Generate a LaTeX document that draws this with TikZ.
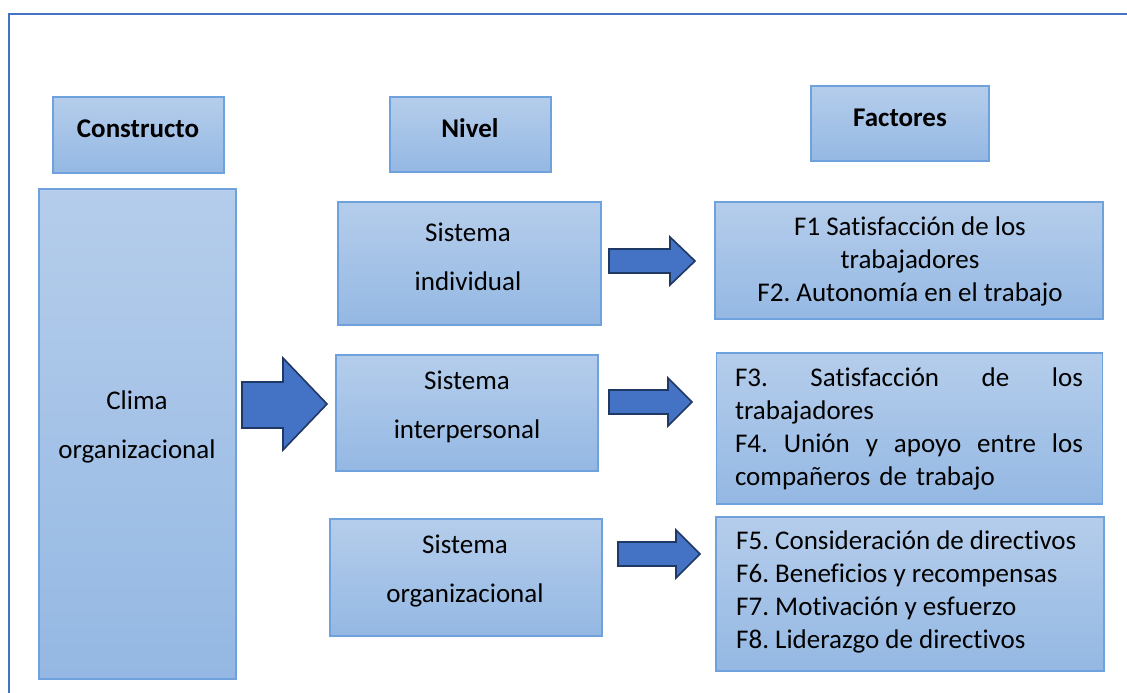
\documentclass[tikz,border=0pt]{standalone}
\usepackage{fontspec}
\setmainfont{Carlito}[Ligatures={NoCommon}]
\definecolor{frame}{HTML}{4472C4}
\definecolor{boxtop}{HTML}{B5CDEB}
\definecolor{boxbot}{HTML}{94B8E3}
\definecolor{boxedge}{HTML}{6FA2DC}
\definecolor{arrfill}{HTML}{4472C4}
\definecolor{arredge}{HTML}{1F3864}
\frenchspacing
\begin{document}
\begin{tikzpicture}[x=1pt,y=-1pt,
  box/.style={draw=boxedge, line width=1.2pt, top color=boxtop, bottom color=boxbot, inner sep=0pt},
  txt/.style={inner sep=0pt, font=\fontsize{27}{33}\selectfont, text=black},
  twoline/.style={txt, align=center, font=\fontsize{27}{49}\selectfont},
  head/.style={txt, font=\fontsize{27}{33}\selectfont\bfseries},
  blockarrow/.style={fill=arrfill, draw=arredge, line width=1.6pt, line join=miter}]
\useasboundingbox (0,0) rectangle (1127,693);
\fill[white] (0,0) rectangle (1127,693);
% outer frame
\draw[frame, line width=2.8pt] (9,800) -- (9,14) -- (1200,14);
% header boxes
\node[box, minimum width=171pt, minimum height=76pt] (bconst) at (138.5,135) {};
\node[head] (tconst) at (138,128.5) {Constructo};
\node[box, minimum width=161pt, minimum height=75pt] (bnivel) at (470.5,134.5) {};
\node[head] (tnivel) at (470,128.5) {Nivel};
\node[box, minimum width=178pt, minimum height=75pt] (bfact) at (900,123.5) {};
\node[head] (tfact) at (900,117.5) {Factores};
% clima
\node[box, minimum width=197pt, minimum height=490pt] (bclima) at (137.5,434) {};
\node[twoline] (tclima) at (137,427) {Clima\\organizacional};
% sistemas
\node[box, minimum width=263pt, minimum height=123pt] (bind) at (469.5,263.5) {};
\node[twoline] (tind) at (468,256.5) {Sistema\\individual};
\node[box, minimum width=262pt, minimum height=116pt] (binter) at (467,413) {};
\node[twoline] (tinter) at (467,407) {Sistema\\interpersonal};
\node[box, minimum width=272pt, minimum height=117pt] (borg) at (466,577.5) {};
\node[twoline] (torg) at (465,571.5) {Sistema\\organizacional};
% factor boxes
\node[box, minimum width=388pt, minimum height=117pt] (bf1) at (909,260.5) {};
\node[txt, align=center] (tf1) at (910,261) {F1 Satisfacción de los\\trabajadores\\F2. Autonomía en el trabajo};
\node[box, minimum width=386pt, minimum height=151pt] (bf3) at (909.5,428.5) {};
\node[txt, align=left, text width=348pt] (tf3) at (909,429) {\makebox[348pt][s]{F3.\hfill Satisfacción\hfill de\hfill los}\\trabajadores\\\makebox[348pt][s]{F4.\hfill Unión\hfill y\hfill apoyo\hfill entre\hfill los}\\compañeros de trabajo};
\node[box, minimum width=388pt, minimum height=154pt] (bf5) at (910,594) {};
\node[txt, align=left, anchor=west] (tf5) at (736,592) {F5. Consideración de directivos\\F6. Beneficios y recompensas\\F7. Motivación y esfuerzo\\F8. Liderazgo de directivos};
% block arrows
\draw[blockarrow] (242,382) -- (283,382) -- (283,358) -- (327,404) -- (283,450) -- (283,428) -- (242,428) -- cycle;
\draw[blockarrow] (609,249) -- (670,249) -- (670,237) -- (695,261) -- (670,285) -- (670,273) -- (609,273) -- cycle;
\draw[blockarrow] (609,390) -- (668,390) -- (668,378) -- (692,402) -- (668,426) -- (668,414) -- (609,414) -- cycle;
\draw[blockarrow] (618,542) -- (676,542) -- (676,530) -- (700,554) -- (676,578) -- (676,566) -- (618,566) -- cycle;
\end{tikzpicture}
\end{document}
